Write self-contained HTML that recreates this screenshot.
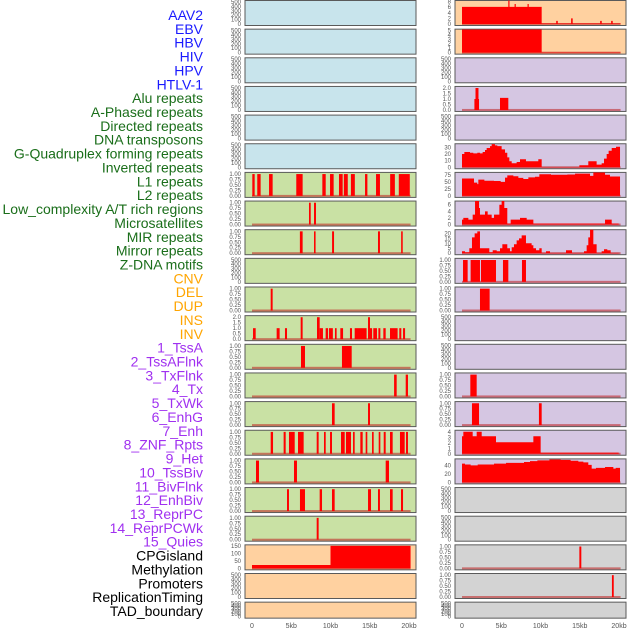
<!DOCTYPE html>
<html><head><meta charset="utf-8"><style>
html,body{margin:0;padding:0;background:#fff;width:630px;height:630px;overflow:hidden}
svg{display:block;font-family:"Liberation Sans",sans-serif}
</style></head><body>
<svg id="chart" width="630" height="630" viewBox="0 0 630 630" xmlns="http://www.w3.org/2000/svg"></svg>
<script>
// ---------- data ----------
const trackLabels=["AAV2","EBV","HBV","HIV","HPV","HTLV-1","Alu repeats","A-Phased repeats","Directed repeats","DNA transposons","G-Quadruplex forming repeats","Inverted repeats","L1 repeats","L2 repeats","Low_complexity A/T rich regions","Microsatellites","MIR repeats","Mirror repeats","Z-DNA motifs","CNV","DEL","DUP","INS","INV","1_TssA","2_TssAFlnk","3_TxFlnk","4_Tx","5_TxWk","6_EnhG","7_Enh","8_ZNF_Rpts","9_Het","10_TssBiv","11_BivFlnk","12_EnhBiv","13_ReprPC","14_ReprPCWk","15_Quies","CPGisland","Methylation","Promoters","ReplicationTiming","TAD_boundary"];
const labelGroupSizes=[6,13,5,15,5];
const xTickValues=[0,5,10,15,20];
const xTickLabels=["0","5kb","10kb","15kb","20kb"];
const emptyTicks=[0,100,200,300,400,500];
const binaryTicks=[0,0.25,0.5,0.75,1];
// left column binary intervals [start kb, end kb, value]
const leftRow6=[[0.04,0.34,1],[0.67,1.1,1],[2.17,2.63,1],[5.64,6.45,1],[8.96,9.39,1],[9.94,10.4,1],[11.08,11.55,1],[11.7,12.2,1],[12.6,13.1,1],[14.4,14.7,1],[15.8,16.3,1],[17.6,18.2,1],[18.7,20.1,1]];
const leftRow7=[[7.26,7.48,1],[7.9,8.15,1]];
const leftRow8=[[6.1,6.45,1],[7.9,8.1,1],[10.2,10.45,1],[16.05,16.3,1],[19.0,19.2,1]];
const leftRow10=[[2.38,2.63,1]];
const leftRow11=[[0.13,0.47,1],[3.14,3.52,1],[4.2,4.46,1],[6.2,6.45,2],[8.28,8.62,2],[8.62,9.04,1],[9.38,9.68,1],[9.8,10.3,1],[10.57,10.78,1],[11.25,11.6,1],[12.48,12.74,1],[13.08,14.6,1],[14.78,15.03,2],[15.03,15.3,1],[15.45,15.92,1],[16.1,16.35,1],[16.73,17.03,1],[17.58,18.55,1],[18.76,19.02,1],[19.24,19.5,1]];
const leftRow12=[[6.24,6.75,1],[11.46,12.7,1]];
const leftRow13=[[18.1,18.43,1],[19.58,19.87,1]];
const leftRow14=[[10.19,10.53,1],[14.78,15.03,1]];
const leftRow15=[[2.38,2.68,1],[4.03,4.29,1],[4.71,5.44,1],[5.86,6.58,1],[8.24,8.49,1],[9.17,9.39,1],[9.94,10.19,1],[11.34,11.81,1],[11.97,12.61,1],[12.87,13.08,1],[13.8,14.1,1],[14.48,14.69,1],[15.29,15.5,1],[16.14,16.35,1],[16.78,17.03,1],[17.58,17.92,1],[18.85,19.45,1],[19.62,19.87,1]];
const leftRow16=[[0.51,0.89,1],[5.35,5.73,1],[17.03,17.45,1]];
const leftRow17=[[4.46,4.71,1],[6.11,6.75,1],[8.62,8.92,1],[10.19,10.53,1],[14.78,15.16,1],[16.05,16.3,1],[17.58,17.92,1],[18.98,19.24,1]];
const leftRow18=[[8.24,8.49,1]];
const leftCpgEdges=[0,10,20.2];
const leftCpgValues=[23,152];
// right column
const rightRow0Edges=[0,5.9,6.05,6.7,6.85,8.35,8.5,10.15,12.0,12.2,13.9,14.1,17.6,17.8,19.0,19.2,20.2];
const rightRow0Values=[6.1,9,6.1,7.1,6.1,7.1,6.1,0.2,1.1,0.2,2.0,0.2,1.1,0.2,1.1,0.2];
const rightRow1Edges=[0,10.15,20.2];
const rightRow1Values=[5.2,0.1];
const rightRow3Edges=[0,1.58,1.72,2.1,2.17,4.84,5.9,20.2];
const rightRow3Values=[0,1,2,1,0,1.1,0];
const rightRow5Edges=[0,0.30,1.02,1.44,1.95,2.29,2.63,2.93,3.14,3.57,3.78,4.20,4.50,5.05,5.48,5.77,6.03,6.33,6.96,7.39,8.15,9.72,10.15,14.95,16.09,17.15,17.79,18.09,18.43,18.68,19.07,19.62,20.13];
const rightRow5Values=[20,23,22,21,22,21,23,26,29,32,35,33,32,27,22,15,9,6,8,12,9,12,0.3,3,9,4,6,13,20,25,29,31];
const rightRow6Edges=[0,1.53,1.95,2.08,2.85,4.08,4.93,5.48,5.77,6.54,7.18,7.81,8.45,9.3,9.85,11.34,13.42,14.4,16.31,16.73,18.22,18.85,20.13];
const rightRow6Values=[62,47,42,58,54,53,50,65,73,70,64,60,66,68,77,75,76,79,71,83,75,69];
const rightRow7Edges=[0,0.17,0.81,1.36,1.66,2.17,2.29,2.93,3.27,3.78,4.08,4.76,5.05,5.39,5.77,6.2,7.39,8.24,9.09,18.22,19.07,19.96];
const rightRow7Values=[1.5,2,1.5,3,7.3,5,3,4,3,2,3,6,7.3,5,0.3,1.5,2,1.5,0.3,1.5,0.3];
const rightRow8Edges=[0,0.38,0.93,1.27,1.61,1.95,2.29,3.48,3.91,4.42,4.84,5.14,5.77,6.11,6.33,6.62,6.96,7.26,7.6,8.15,8.87,9.09,9.43,9.85,10.15,10.7,11.21,13.25,14.01,15.54,15.88,16.09,16.31,16.73,17.15,17.79,18.09,18.51,18.94,19.96];
const rightRow8Values=[2,1,5,16,20,22,5,1,3,2,5,9,5,2,6,9,13,15,18,10,8,5,3,5,0.3,2,0.3,3,0.3,2,8,16,24,9,0.3,2,4,3,0.3];
const rightRow9=[[0.13,0.72,1],[1.1,2.29,1],[2.42,4.33,1],[5.22,5.9,1],[7.64,8.15,1]];
const rightRow10=[[2.29,3.52,1]];
const rightRow13=[[1.06,1.87,1]];
const rightRow14=[[1.27,2.17,1],[9.8,10.15,1]];
const rightRow15Edges=[0,0.17,1.36,1.87,2.51,4.33,9.09,10.02,19.96];
const rightRow15Values=[3.2,4,3.2,4,3.2,2.1,3.2,0.2];
const rightRow16Edges=[0,0.38,1.1,2.0,4.08,5.61,7.9,8.66,9.6,11.13,12.57,13.84,14.82,15.46,16.09,16.52,17.07,18.22,19.28,19.58,20.13];
const rightRow16Values=[45,43,41,43,45,47,49,51,53,55,54,52,50,48,42,33,35,37,33,35];
const rightRow19=[[14.95,15.2,1]];
const rightRow20=[[19.1,19.33,1]];

// ---------- panel specs ----------
const BLUE="#c8e4ec",GREEN="#c9e1a4",PEACH="#ffd1a0",PURPLE="#d5c6e2",GRAY="#d3d3d3";
function emptyP(bg){return {bg:bg,ticks:emptyTicks,ymax:510,fmt:0};}
function binP(bg,iv){return {bg:bg,ticks:binaryTicks,ymax:1.03,fmt:2,iv:iv};}
const leftPanels=[emptyP(BLUE),emptyP(BLUE),emptyP(BLUE),emptyP(BLUE),emptyP(BLUE),emptyP(BLUE),
 binP(GREEN,leftRow6),binP(GREEN,leftRow7),binP(GREEN,leftRow8),emptyP(GREEN),binP(GREEN,leftRow10),
 {bg:GREEN,ticks:[0,0.5,1,1.5,2],ymax:2.05,fmt:1,iv:leftRow11},
 binP(GREEN,leftRow12),binP(GREEN,leftRow13),binP(GREEN,leftRow14),binP(GREEN,leftRow15),binP(GREEN,leftRow16),binP(GREEN,leftRow17),binP(GREEN,leftRow18),
 {bg:PEACH,ticks:[0,50,100,150],ymax:152,fmt:0,edges:leftCpgEdges,vals:leftCpgValues},
 emptyP(PEACH),emptyP(PEACH)];
const rightPanels=[
 {bg:PEACH,ticks:[0,2,4,6,8],ymax:8,fmt:0,edges:rightRow0Edges,vals:rightRow0Values},
 {bg:PEACH,ticks:[0,1,2,3,4,5],ymax:5.05,fmt:0,edges:rightRow1Edges,vals:rightRow1Values},
 emptyP(PURPLE),
 {bg:PURPLE,ticks:[0,0.5,1,1.5,2],ymax:2.05,fmt:1,edges:rightRow3Edges,vals:rightRow3Values},
 emptyP(PURPLE),
 {bg:PURPLE,ticks:[0,10,20,30],ymax:34,fmt:0,edges:rightRow5Edges,vals:rightRow5Values},
 {bg:PURPLE,ticks:[0,25,50,75],ymax:80,fmt:0,edges:rightRow6Edges,vals:rightRow6Values},
 {bg:PURPLE,ticks:[0,2,4,6],ymax:6.8,fmt:0,edges:rightRow7Edges,vals:rightRow7Values},
 {bg:PURPLE,ticks:[0,5,10,15,20],ymax:22.7,fmt:0,edges:rightRow8Edges,vals:rightRow8Values},
 binP(PURPLE,rightRow9),binP(PURPLE,rightRow10),emptyP(PURPLE),emptyP(PURPLE),binP(PURPLE,rightRow13),binP(PURPLE,rightRow14),
 {bg:PURPLE,ticks:[0,1,2,3,4],ymax:4.1,fmt:0,edges:rightRow15Edges,vals:rightRow15Values},
 {bg:PURPLE,ticks:[0,20,40],ymax:54,fmt:0,edges:rightRow16Edges,vals:rightRow16Values},
 emptyP(GRAY),emptyP(GRAY),binP(GRAY,rightRow19),binP(GRAY,rightRow20),emptyP(GRAY)];

// ---------- drawing ----------
const NS="http://www.w3.org/2000/svg";
const svg=document.getElementById("chart");
function mk(tag,attrs,parent){const e=document.createElementNS(NS,tag);for(const k in attrs)e.setAttribute(k,attrs[k]);(parent||svg).appendChild(e);return e;}
const PX_PER_KB=7.85;
function rowTop(i){return 0.5+28.65*i;}
function rowH(i){return i===21?16:25;}

// labels
const labelColors=["#1a1aff","#1a6e1a","#ffa500","#a030f0","#000000"];
let gi=0,cnt=0;
const labelStep=(611-15)/(trackLabels.length-1);
trackLabels.forEach((t,i)=>{
  while(cnt>=labelGroupSizes[gi]){gi++;cnt=0;}
  cnt++;
  const e=mk("text",{x:203,y:15+i*labelStep+5,"text-anchor":"end","font-size":"14",fill:labelColors[gi]});
  e.textContent=t;
  
  
});

function drawColumn(panels,x0,px0,side){
  const g=mk("g",{});
  
  
  const xs=kb=>x0+7+kb*PX_PER_KB;
  panels.forEach((p,i)=>{
    const top=rowTop(i),h=rowH(i);
    const pg=mk("g",{},g);
    
    
    const cid="clip-"+side+i;
    const cp=mk("clipPath",{id:cid},pg);
    mk("rect",{x:x0,y:top,width:171,height:h},cp);
    const bg=mk("rect",{x:x0,y:top,width:171,height:h,fill:p.bg,stroke:"#5a5a5a","stroke-width":"1"},pg);
    
    
    const y0=top+h-1.5;
    const ys=v=>y0-v/p.ymax*(y0-top-1);
    const marks=mk("g",{"clip-path":"url(#"+cid+")"},pg);
    const hasData=p.iv||p.edges;
    if(hasData){
      const bl=mk("rect",{x:xs(0),y:y0-1,width:xs(20.2)-xs(0),height:2,fill:"rgba(190,30,30,0.55)"},marks);
      
      
    }
    if(p.iv){
      p.iv.forEach(d=>{
        const r=mk("rect",{x:xs(d[0]),y:ys(d[2]),width:Math.max(1,xs(d[1])-xs(d[0])),height:y0-ys(d[2]),fill:"#ff0000"},marks);
        
        
      });
    }
    if(p.edges){
      let dd="M"+xs(p.edges[0])+","+y0;
      p.vals.forEach((v,k)=>{dd+=" L"+xs(p.edges[k])+","+ys(v)+" L"+xs(p.edges[k+1])+","+ys(v);});
      dd+=" L"+xs(p.edges[p.edges.length-1])+","+y0+" Z";
      const a=mk("path",{d:dd,fill:"#ff0000"},marks);
      
      
    }
    p.ticks.forEach(t=>{
      const tt=mk("text",{x:x0-4,y:ys(t)+2,"text-anchor":"end","font-size":"6",fill:"#555"},pg);
      tt.textContent=t.toFixed(p.fmt);
      
      
    });
  });
  xTickValues.forEach((v,k)=>{
    const t=mk("text",{x:xs(v),y:628,"text-anchor":"middle","font-size":"7",fill:"#555"},g);
    t.textContent=xTickLabels[k];
    
    
  });
}
drawColumn(leftPanels,245,252,"left");
drawColumn(rightPanels,455,462,"right");
</script>
</body></html>
